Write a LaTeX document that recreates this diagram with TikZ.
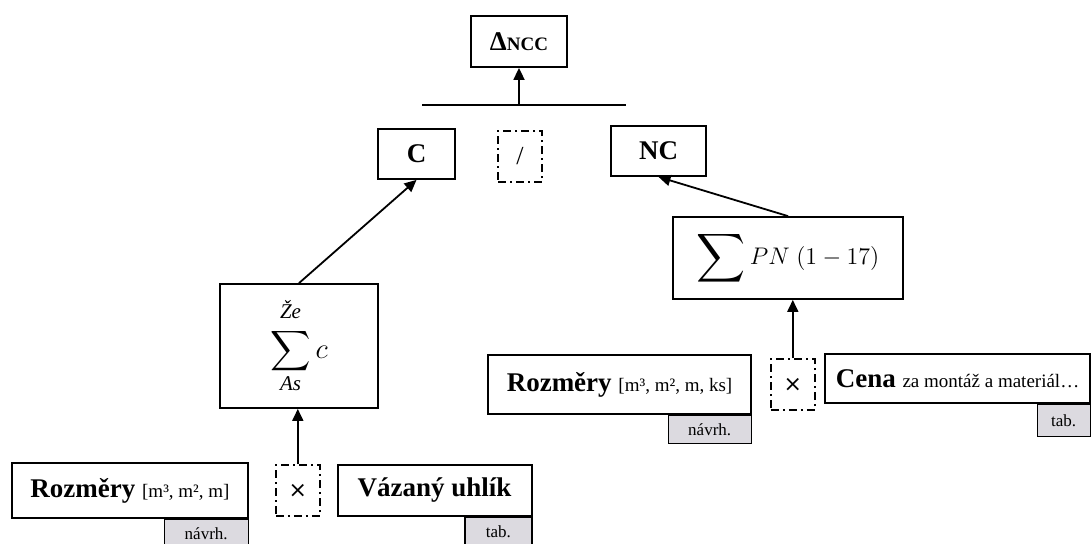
\documentclass[tikz,border=0pt]{standalone}
\usepackage{fontspec}
\setmainfont{Liberation Serif}
\newfontfamily\symfont{DejaVu Sans}
\usepackage{graphicx}
\usetikzlibrary{arrows.meta,positioning}
\definecolor{tabgray}{HTML}{DCDAE0}
\tikzset{box/.style={draw,line width=0.9pt,fill=white,inner sep=2pt,align=center,font=\fontsize{13.5}{16}\selectfont\bfseries},dbox/.style={draw,line width=0.9pt,dash pattern=on 4pt off 2pt on 1pt off 2pt,minimum width=22pt,minimum height=25.5pt,inner sep=0pt,font=\fontsize{13}{15}\selectfont},tab/.style={draw,line width=0.7pt,fill=tabgray,inner sep=0pt,minimum height=14pt,font=\fontsize{8.5}{10}\selectfont},edge/.style={-{Triangle[length=6pt,width=5.5pt]},line width=0.9pt}}
\newcommand{\unitnote}[1]{{\fontsize{9.5}{11}\selectfont\mdseries #1}}
\newcommand{\limtext}[1]{\mbox{\fontsize{10.5}{12}\selectfont\mdseries\itshape #1}}
\begin{document}
\begin{tikzpicture}[x=0.5pt,y=-0.5pt]
\useasboundingbox (0,0) rectangle (1091,543);
\node[box,minimum width=48pt,minimum height=25.5pt] (delta) at (519,41.5) {Δ{\fontsize{9.5}{11}\selectfont NCC}};
\coordinate (barL) at (422,105);\coordinate (barR) at (626,105);
\node[box,minimum width=38.5pt,minimum height=25pt] (cbox) at (416.5,154) {C};
\node[dbox] (slash) at (520,156.5) {/};
\node[box,minimum width=47.5pt,minimum height=25pt] (ncbox) at (658.5,151) {NC};
\node[box,minimum width=79pt,minimum height=62pt,font=\fontsize{14.5}{17}\selectfont] (sumc) at (299,346) {$\displaystyle\mathop{\raisebox{-1.5pt}{\scalebox{1.4}{$\displaystyle\sum$}}}\limits_{\limtext{As}}^{\raisebox{3pt}{\limtext{Že}}} c$};
\node[box,minimum width=115pt,minimum height=41pt,font=\fontsize{13}{15}\selectfont] (sumpn) at (788,258) {$\mathop{\raisebox{-2pt}{\scalebox{1.7}{$\displaystyle\sum$}}} PN\;(1-17)$};
% bottom left
\node[box,minimum width=118pt,minimum height=27.5pt] (dimL) at (130,490.5) {Rozměry \unitnote{[m³, m², m]}};
\node[dbox,right=13pt of dimL,font=\fontsize{11}{13}\selectfont\symfont] (timesL) {×};
\node[box,minimum width=97pt,minimum height=25.5pt,right=8pt of timesL] (carbon) {Vázaný uhlík};
\node[tab,minimum width=42pt,below left=0pt of dimL.south east] (tabdimL) {návrh.};
\node[tab,minimum width=33.5pt,below left=0pt of carbon.south east] (tabcarbon) {tab.};
% bottom right
\node[box,minimum width=131.5pt,minimum height=29.5pt] (dimR) at (619.5,384.5) {Rozměry \unitnote{[m³, m², m, ks]}};
\node[dbox,right=9pt of dimR,font=\fontsize{11}{13}\selectfont\symfont] (timesR) {×};
\node[box,minimum width=132.5pt,minimum height=24.5pt] (price) at (957.5,378.5) {Cena \unitnote{za montáž a materiál…}};
\node[tab,minimum width=41.5pt,below left=0pt of dimR.south east] (tabdimR) {návrh.};
\node[tab,minimum width=26.5pt,minimum height=16pt,below left=0pt of price.south east] (tabprice) {tab.};
\draw[line width=0.9pt] (barL) -- (barR);\draw[edge] (delta |- barL) -- (delta);
\draw[edge] (sumc.north) -- (cbox.south);\draw[edge] (sumpn.north) -- (ncbox.south);
\draw[edge] (timesL.north) -- (timesL.north |- sumc.south);\draw[edge] (timesR.north) -- (timesR.north |- sumpn.south);
\end{tikzpicture}
\end{document}
